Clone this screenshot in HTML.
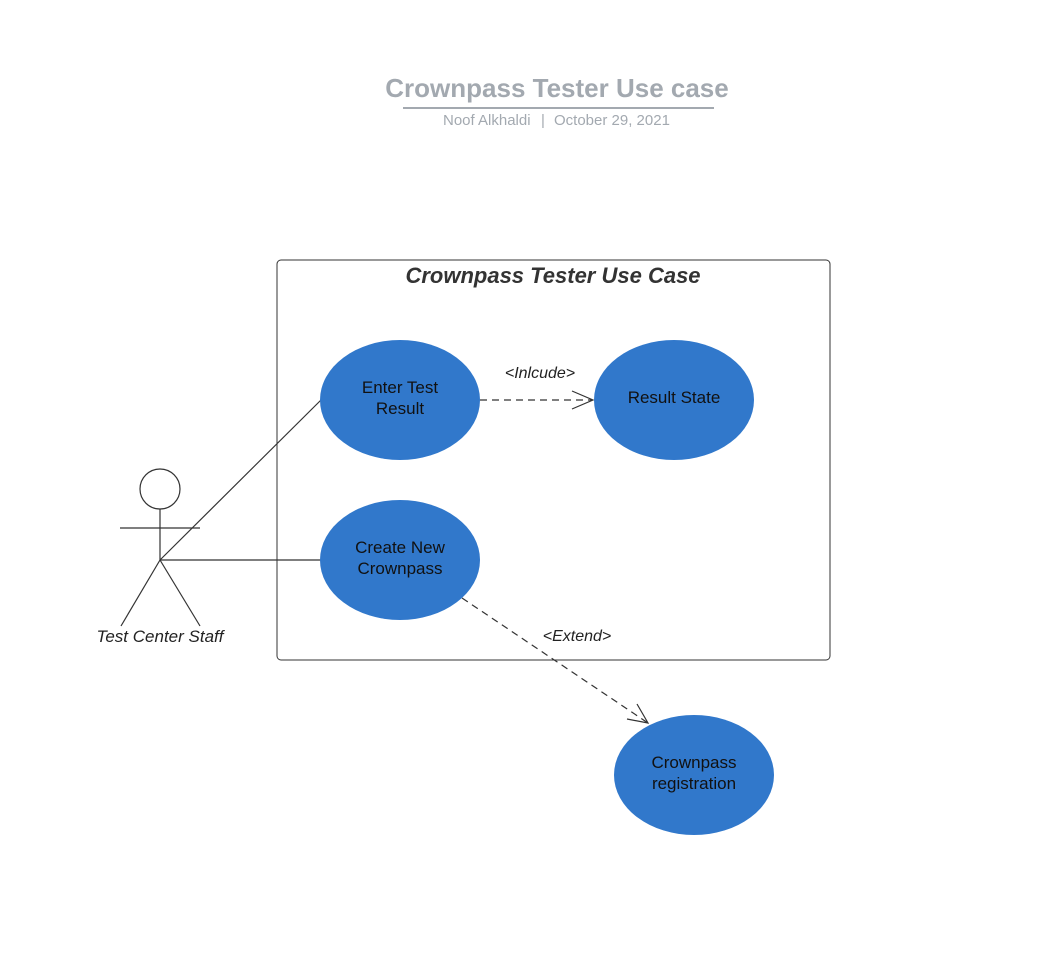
<!DOCTYPE html>
<html><head><style>body{margin:0;background:#fff}svg{display:block}</style></head><body>
<svg width="1043" height="974" xmlns="http://www.w3.org/2000/svg" font-family="Liberation Sans, sans-serif">
<text x="557" y="97" text-anchor="middle" font-size="26" font-weight="bold" fill="#a3a9b0">Crownpass Tester Use case</text>
<line x1="403" y1="108" x2="714" y2="108" stroke="#a3a9b0" stroke-width="2"/>
<text x="443" y="125" font-size="15" fill="#a3a9b0">Noof Alkhaldi</text>
<text x="543" y="125" text-anchor="middle" font-size="15" fill="#a3a9b0">|</text>
<text x="554" y="125" font-size="15" fill="#a3a9b0">October 29, 2021</text>
<rect x="277" y="260" width="553" height="400" rx="4" fill="none" stroke="#333" stroke-width="1"/>
<text x="553" y="283" text-anchor="middle" font-size="22" font-weight="bold" font-style="italic" fill="#333">Crownpass Tester Use Case</text>
<g stroke="#333" stroke-width="1.2" fill="none">
<circle cx="160" cy="489" r="20"/>
<line x1="120" y1="528" x2="200" y2="528"/>
<line x1="160" y1="509" x2="160" y2="560"/>
<line x1="160" y1="560" x2="121" y2="626"/>
<line x1="160" y1="560" x2="200" y2="626"/>
<line x1="160" y1="560" x2="321" y2="400"/>
<line x1="160" y1="560" x2="321" y2="560"/>
<line x1="480" y1="400" x2="592" y2="400" stroke-dasharray="7,5"/>
<polyline points="572,391 593,400 572,409"/>
<line x1="462" y1="598" x2="648" y2="723" stroke-dasharray="7,5"/>
<polyline points="627,719 648,723 637,704"/>
</g>
<text x="160" y="642" text-anchor="middle" font-size="17" font-style="italic" fill="#222">Test Center Staff</text>
<text x="540" y="378" text-anchor="middle" font-size="16" font-style="italic" fill="#222">&lt;Inlcude&gt;</text>
<text x="577" y="641" text-anchor="middle" font-size="16" font-style="italic" fill="#222">&lt;Extend&gt;</text>
<g fill="#3178cb">
<ellipse cx="400" cy="400" rx="80" ry="60"/>
<ellipse cx="674" cy="400" rx="80" ry="60"/>
<ellipse cx="400" cy="560" rx="80" ry="60"/>
<ellipse cx="694" cy="775" rx="80" ry="60"/>
</g>
<g font-size="17" fill="#111" text-anchor="middle">
<text x="400" y="393">Enter Test</text><text x="400" y="414">Result</text>
<text x="674" y="403">Result State</text>
<text x="400" y="553">Create New</text><text x="400" y="574">Crownpass</text>
<text x="694" y="768">Crownpass</text><text x="694" y="789">registration</text>
</g>
</svg>
</body></html>
